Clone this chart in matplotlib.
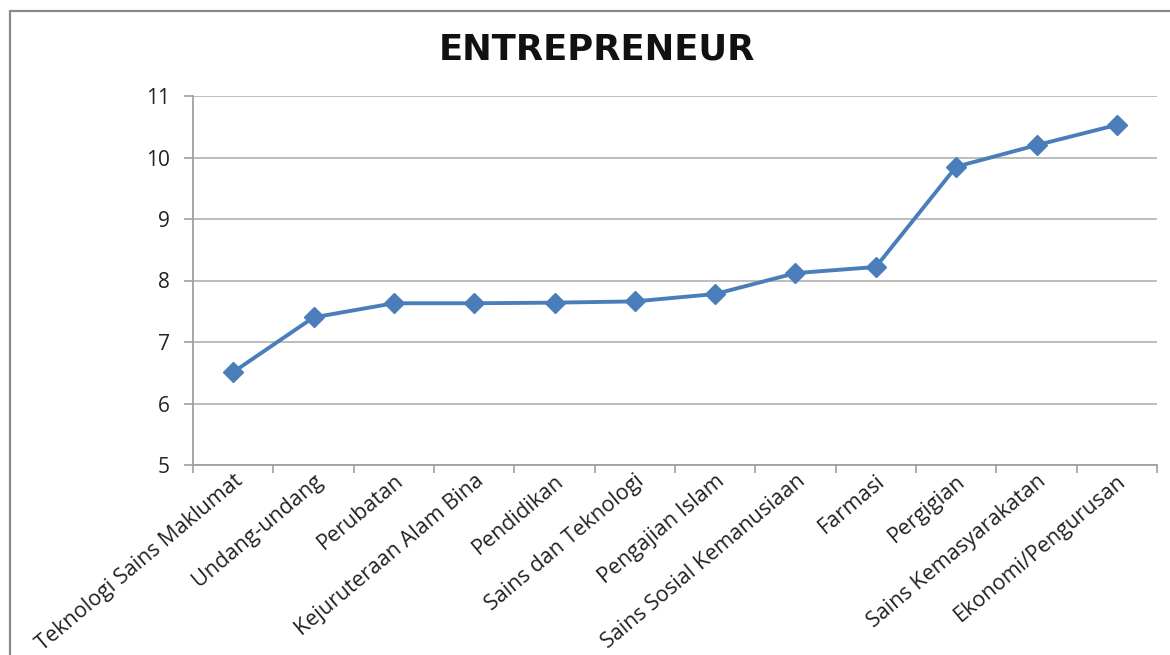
import matplotlib
matplotlib.use('Agg')
import numpy as np
from matplotlib import pyplot as plt
from matplotlib.patches import Rectangle

# nilai purata entrepreneur mengikut fakulti
fakulti = ['Teknologi Sains Maklumat', 'Undang-undang', 'Perubatan',
           'Kejuruteraan Alam Bina', 'Pendidikan', 'Sains dan Teknologi',
           'Pengajian Islam', 'Sains Sosial Kemanusiaan', 'Farmasi',
           'Pergigian', 'Sains Kemasyarakatan', 'Ekonomi/Pengurusan']
skor = [6.51, 7.40, 7.63, 7.63, 7.64, 7.66, 7.78, 8.12, 8.22, 9.85, 10.20, 10.53]
y_ticks = [5, 6, 7, 8, 9, 10, 11]

plt.rcParams['font.family'] = ['Open Sans', 'DejaVu Sans']

fig = plt.figure(figsize=(11.7, 6.55), dpi=100)
ax = fig.add_axes([193 / 1170, 1 - 465 / 655, 964 / 1170, 369 / 655])

# bingkai luar carta
fig.patches.append(Rectangle((10 / 1170, -0.1), 1.2, 0.1 + (1 - 11 / 655),
                             transform=fig.transFigure, fill=False,
                             edgecolor='#8a8a8a', linewidth=1.6))

x = np.arange(len(fakulti))
ax.plot(x, skor, color='#4a7ebb', linewidth=2.8, marker='D', markersize=10,
        markerfacecolor='#4a7ebb', markeredgecolor='#4a7ebb', zorder=3)

ax.set_xlim(-0.5, len(fakulti) - 0.5)
ax.set_ylim(5, 11)
ax.set_yticks(y_ticks)
ax.set_yticklabels([str(v) for v in y_ticks], fontsize=15, color='#222222')
ax.set_xticks(x)
ax.set_xticklabels(fakulti, rotation=40, ha='right', rotation_mode='anchor',
                   fontsize=15.5, color='#222222')
ax.tick_params(axis='x', length=0, pad=4)
ax.set_xticks(np.arange(len(fakulti) + 1) - 0.5, minor=True)
ax.tick_params(axis='x', which='minor', length=6, color='#a0a0a0', width=1.2)
ax.tick_params(axis='y', length=6.5, color='#a0a0a0', width=1.2, pad=10)

ax.grid(axis='y', color='#b8b8b8', linewidth=1.3)
ax.set_axisbelow(True)
for s in ['top', 'right']:
    ax.spines[s].set_visible(False)
for s in ['left', 'bottom']:
    ax.spines[s].set_color('#a0a0a0')
    ax.spines[s].set_linewidth(1.3)

fig.text(597 / 1170, 1 - 50 / 655, 'ENTREPRENEUR', ha='center', va='center',
         fontsize=25.5, fontweight='bold', color='#111111',
         family=['DejaVu Sans'])

fig.savefig('out.png', dpi=100)
